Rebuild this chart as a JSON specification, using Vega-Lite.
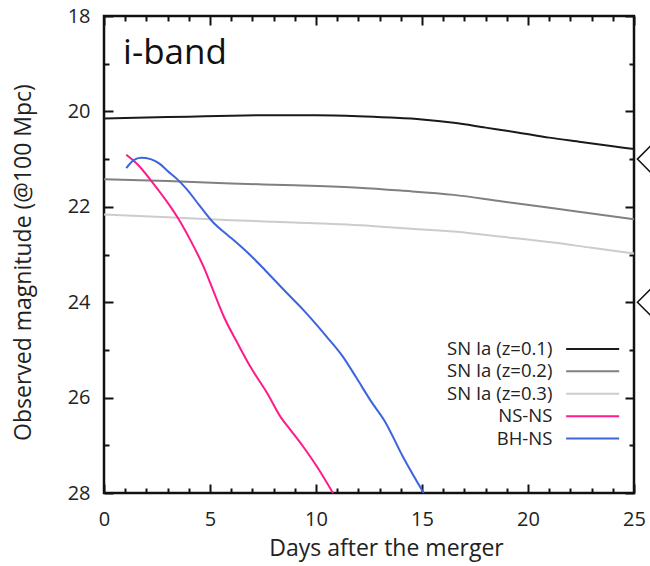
{
  "$schema": "https://vega.github.io/schema/vega-lite/v6.json",
  "width": 530,
  "height": 477,
  "autosize": {"type": "none"},
  "padding": {"left": 104, "top": 16, "right": 16, "bottom": 73},
  "background": "white",
  "config": {
    "font": "Open Sans",
    "view": {"stroke": "#111111", "strokeWidth": 2.5},
    "axis": {"labelColor": "#222222", "titleColor": "#222222", "titleFontWeight": "normal", "grid": false, "domain": false, "tickColor": "#111111", "tickWidth": 2, "labelOverlap": false, "labelFlush": false}
  },
  "datasets": {
    "curves": [
      {"series": "SN Ia (z=0.1)", "day": 0, "mag": 20.15},
      {"series": "SN Ia (z=0.1)", "day": 2, "mag": 20.13},
      {"series": "SN Ia (z=0.1)", "day": 4, "mag": 20.11},
      {"series": "SN Ia (z=0.1)", "day": 6, "mag": 20.09},
      {"series": "SN Ia (z=0.1)", "day": 8, "mag": 20.08},
      {"series": "SN Ia (z=0.1)", "day": 10, "mag": 20.08},
      {"series": "SN Ia (z=0.1)", "day": 12, "mag": 20.1},
      {"series": "SN Ia (z=0.1)", "day": 13.5, "mag": 20.13},
      {"series": "SN Ia (z=0.1)", "day": 15, "mag": 20.17},
      {"series": "SN Ia (z=0.1)", "day": 16.5, "mag": 20.24},
      {"series": "SN Ia (z=0.1)", "day": 18, "mag": 20.34},
      {"series": "SN Ia (z=0.1)", "day": 19.5, "mag": 20.44},
      {"series": "SN Ia (z=0.1)", "day": 21, "mag": 20.55},
      {"series": "SN Ia (z=0.1)", "day": 22.5, "mag": 20.64},
      {"series": "SN Ia (z=0.1)", "day": 24, "mag": 20.73},
      {"series": "SN Ia (z=0.1)", "day": 25, "mag": 20.79},
      {"series": "SN Ia (z=0.2)", "day": 0, "mag": 21.42},
      {"series": "SN Ia (z=0.2)", "day": 3, "mag": 21.46},
      {"series": "SN Ia (z=0.2)", "day": 6, "mag": 21.51},
      {"series": "SN Ia (z=0.2)", "day": 9, "mag": 21.55},
      {"series": "SN Ia (z=0.2)", "day": 12, "mag": 21.6},
      {"series": "SN Ia (z=0.2)", "day": 14, "mag": 21.66},
      {"series": "SN Ia (z=0.2)", "day": 16.5, "mag": 21.75},
      {"series": "SN Ia (z=0.2)", "day": 18.8, "mag": 21.89},
      {"series": "SN Ia (z=0.2)", "day": 21.2, "mag": 22.03},
      {"series": "SN Ia (z=0.2)", "day": 23, "mag": 22.14},
      {"series": "SN Ia (z=0.2)", "day": 25, "mag": 22.26},
      {"series": "SN Ia (z=0.3)", "day": 0, "mag": 22.16},
      {"series": "SN Ia (z=0.3)", "day": 3, "mag": 22.22},
      {"series": "SN Ia (z=0.3)", "day": 6, "mag": 22.28},
      {"series": "SN Ia (z=0.3)", "day": 9, "mag": 22.33},
      {"series": "SN Ia (z=0.3)", "day": 12.6, "mag": 22.4},
      {"series": "SN Ia (z=0.3)", "day": 14.5, "mag": 22.46},
      {"series": "SN Ia (z=0.3)", "day": 16.5, "mag": 22.52},
      {"series": "SN Ia (z=0.3)", "day": 18.8, "mag": 22.63},
      {"series": "SN Ia (z=0.3)", "day": 21.2, "mag": 22.75},
      {"series": "SN Ia (z=0.3)", "day": 23, "mag": 22.86},
      {"series": "SN Ia (z=0.3)", "day": 25, "mag": 22.98},
      {"series": "NS-NS", "day": 1.05, "mag": 20.91},
      {"series": "NS-NS", "day": 1.6, "mag": 21.12},
      {"series": "NS-NS", "day": 2.2, "mag": 21.44},
      {"series": "NS-NS", "day": 2.8, "mag": 21.79},
      {"series": "NS-NS", "day": 3.45, "mag": 22.21},
      {"series": "NS-NS", "day": 4.1, "mag": 22.72},
      {"series": "NS-NS", "day": 4.7, "mag": 23.26},
      {"series": "NS-NS", "day": 5.2, "mag": 23.81},
      {"series": "NS-NS", "day": 5.65, "mag": 24.3},
      {"series": "NS-NS", "day": 6.3, "mag": 24.86},
      {"series": "NS-NS", "day": 6.9, "mag": 25.35},
      {"series": "NS-NS", "day": 7.7, "mag": 25.91},
      {"series": "NS-NS", "day": 8.35, "mag": 26.42},
      {"series": "NS-NS", "day": 8.8, "mag": 26.68},
      {"series": "NS-NS", "day": 9.4, "mag": 27.03},
      {"series": "NS-NS", "day": 10.05, "mag": 27.45},
      {"series": "NS-NS", "day": 10.8, "mag": 28.0},
      {"series": "BH-NS", "day": 1.05, "mag": 21.19},
      {"series": "BH-NS", "day": 1.4, "mag": 21.02},
      {"series": "BH-NS", "day": 1.75, "mag": 20.97},
      {"series": "BH-NS", "day": 2.2, "mag": 21.0},
      {"series": "BH-NS", "day": 2.6, "mag": 21.09},
      {"series": "BH-NS", "day": 3.0, "mag": 21.25},
      {"series": "BH-NS", "day": 3.45, "mag": 21.42},
      {"series": "BH-NS", "day": 3.9, "mag": 21.63},
      {"series": "BH-NS", "day": 4.5, "mag": 21.97},
      {"series": "BH-NS", "day": 5.2, "mag": 22.35},
      {"series": "BH-NS", "day": 5.8, "mag": 22.58},
      {"series": "BH-NS", "day": 6.5, "mag": 22.85},
      {"series": "BH-NS", "day": 7.1, "mag": 23.1},
      {"series": "BH-NS", "day": 7.6, "mag": 23.33},
      {"series": "BH-NS", "day": 8.5, "mag": 23.75},
      {"series": "BH-NS", "day": 9.4, "mag": 24.16},
      {"series": "BH-NS", "day": 10.5, "mag": 24.72},
      {"series": "BH-NS", "day": 11.2, "mag": 25.1},
      {"series": "BH-NS", "day": 11.9, "mag": 25.58},
      {"series": "BH-NS", "day": 12.6, "mag": 26.08},
      {"series": "BH-NS", "day": 13.25, "mag": 26.5},
      {"series": "BH-NS", "day": 14.1, "mag": 27.24},
      {"series": "BH-NS", "day": 15.08, "mag": 28.0}
    ],
    "legendRows": [
      {"series": "SN Ia (z=0.1)", "mag": 24.98, "x1": 21.8, "x2": 24.3, "tx": 21.15},
      {"series": "SN Ia (z=0.2)", "mag": 25.45, "x1": 21.8, "x2": 24.3, "tx": 21.15},
      {"series": "SN Ia (z=0.3)", "mag": 25.92, "x1": 21.8, "x2": 24.3, "tx": 21.15},
      {"series": "NS-NS", "mag": 26.39, "x1": 21.8, "x2": 24.3, "tx": 21.15},
      {"series": "BH-NS", "mag": 26.86, "x1": 21.8, "x2": 24.3, "tx": 21.15}
    ],
    "markers": [
      {"day": 25.75, "mag": 21},
      {"day": 25.75, "mag": 24}
    ],
    "note": [
      {"day": 0.9, "mag": 19.0, "label": "i-band"}
    ]
  },
  "layer": [
    {
      "data": {"name": "curves"},
      "mark": {"type": "line", "interpolate": "monotone"},
      "encoding": {
        "x": {
          "field": "day", "type": "quantitative",
          "scale": {"domain": [0, 25], "nice": false, "zero": false},
          "axis": {
            "orient": "bottom",
            "values": [0,1,2,3,4,5,6,7,8,9,10,11,12,13,14,15,16,17,18,19,20,21,22,23,24,25],
            "labelExpr": "datum.value % 5 === 0 ? datum.label : ''",
            "tickSize": {"condition": {"test": "datum.value % 5 === 0", "value": -9}, "value": -5},
            "labelFontSize": 20,
            "labelPadding": 25,
            "title": "Days after the merger",
            "titleFontSize": 23,
            "titlePadding": 4,
            "titleX": 282
          }
        },
        "y": {
          "field": "mag", "type": "quantitative",
          "scale": {"domain": [18, 28], "nice": false, "zero": false, "reverse": true},
          "axis": {
            "orient": "left",
            "values": [18,19,20,21,22,23,24,25,26,27,28],
            "labelExpr": "datum.value % 2 === 0 ? datum.label : ''",
            "tickSize": {"condition": {"test": "datum.value % 2 === 0", "value": -9}, "value": -5},
            "labelFontSize": 20,
            "labelPadding": 23,
            "title": "Observed magnitude (@100 Mpc)",
            "titleFontSize": 23,
            "titlePadding": 32,
            "titleY": 246
          }
        },
        "color": {
          "field": "series", "type": "nominal",
          "scale": {"domain": ["SN Ia (z=0.1)", "SN Ia (z=0.2)", "SN Ia (z=0.3)", "NS-NS", "BH-NS"], "range": ["#1a1a1a", "#808080", "#cccccc", "#ff1a8c", "#3c64dc"]},
          "legend": null
        },
        "strokeWidth": {
          "field": "series", "type": "nominal",
          "scale": {"domain": ["SN Ia (z=0.1)", "SN Ia (z=0.2)", "SN Ia (z=0.3)", "NS-NS", "BH-NS"], "range": [2, 2, 2, 4, 4]},
          "legend": null
        }
      }
    },
    {
      "data": {"name": "markers"},
      "mark": {"type": "point", "shape": "diamond", "filled": false, "size": 625, "stroke": "#111111", "strokeWidth": 1.5, "clip": false, "opacity": 1},
      "encoding": {
        "x": {
          "field": "day", "type": "quantitative",
          "scale": {"domain": [0, 25], "nice": false, "zero": false},
          "axis": {
            "orient": "top",
            "values": [0,1,2,3,4,5,6,7,8,9,10,11,12,13,14,15,16,17,18,19,20,21,22,23,24,25],
            "labels": false,
            "tickSize": {"condition": {"test": "datum.value % 5 === 0", "value": -9}, "value": -5},
            "title": null
          }
        },
        "y": {
          "field": "mag", "type": "quantitative",
          "scale": {"domain": [18, 28], "nice": false, "zero": false, "reverse": true},
          "axis": {
            "orient": "right",
            "values": [18,19,20,21,22,23,24,25,26,27,28],
            "labels": false,
            "tickSize": {"condition": {"test": "datum.value % 2 === 0", "value": -9}, "value": -5},
            "title": null
          }
        }
      }
    },
    {
      "data": {"name": "legendRows"},
      "mark": {"type": "rule"},
      "encoding": {
        "x": {"field": "x1", "type": "quantitative", "axis": null},
        "x2": {"field": "x2"},
        "y": {"field": "mag", "type": "quantitative", "axis": null},
        "color": {"field": "series", "type": "nominal", "legend": null},
        "strokeWidth": {"field": "series", "type": "nominal", "legend": null}
      }
    },
    {
      "data": {"name": "legendRows"},
      "mark": {"type": "text", "align": "right", "baseline": "middle", "fontSize": 18.5, "color": "#222222"},
      "encoding": {
        "x": {"field": "tx", "type": "quantitative", "axis": null},
        "y": {"field": "mag", "type": "quantitative", "axis": null},
        "text": {"field": "series"}
      }
    },
    {
      "data": {"name": "note"},
      "mark": {"type": "text", "align": "left", "baseline": "alphabetic", "fontSize": 35, "color": "#111111"},
      "encoding": {
        "x": {"field": "day", "type": "quantitative", "axis": null},
        "y": {"field": "mag", "type": "quantitative", "axis": null},
        "text": {"field": "label"}
      }
    }
  ],
  "resolve": {"axis": {"x": "independent", "y": "independent"}}
}
